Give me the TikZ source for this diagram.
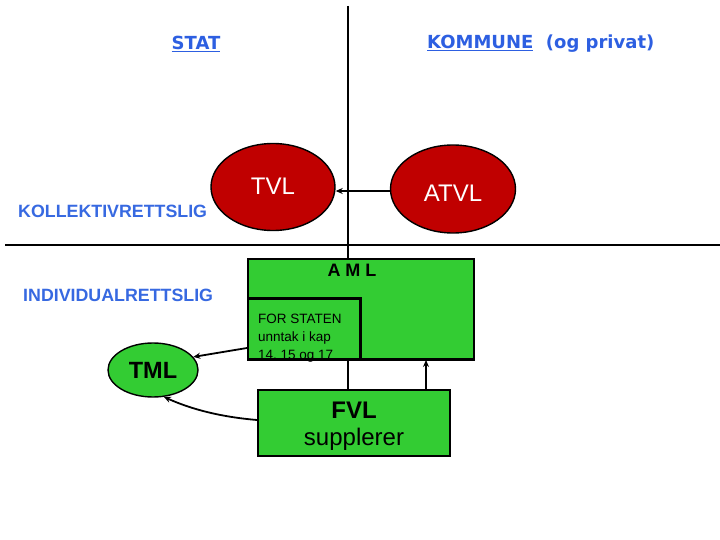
\documentclass[tikz,border=0pt]{standalone}
\usepackage{fontspec}
\setmainfont{Liberation Sans}
\newfontfamily\verd{DejaVu Sans}
\usetikzlibrary{shapes.geometric,arrows.meta}
\definecolor{hblue}{RGB}{45,95,225}
\definecolor{lblue}{RGB}{55,105,225}
\definecolor{ored}{RGB}{192,0,0}
\definecolor{bgreen}{RGB}{51,204,51}
\tikzset{
  axis/.style={line width=2.2pt},
  redell/.style={ellipse, draw=black, line width=1.4pt, fill=ored, inner sep=0pt},
  redtxt/.style={text=white, font=\fontsize{24}{26}\selectfont, inner sep=0pt},
  greenbox/.style={draw=black, line width=2pt, fill=bgreen, inner sep=0pt},
  conn/.style={line width=2pt},
  arr/.style={line width=1.8pt, -{Stealth[length=7pt,width=6pt]}},
  head/.style={font=\verd\bfseries\fontsize{18}{20}\selectfont, text=hblue, inner sep=0pt},
  side/.style={font=\bfseries\fontsize{17.8}{19}\selectfont, text=lblue, inner sep=0pt},
}
\begin{document}
\begin{tikzpicture}[x=1pt,y=-1pt]
\useasboundingbox (0,0) rectangle (720,540);
% axes
\coordinate (vtop) at (348,6);
\coordinate (hl) at (5,245);
\coordinate (hr) at (720,245);
% headers
\node[head] (stat) at (196,44) {\underline{STAT}};
\node[head, anchor=west] (komm) at (427,44) {\underline{KOMMUNE}\ \ (og privat)};
\node[side, anchor=west] (koll) at (18,211) {KOLLEKTIVRETTSLIG};
\node[side, anchor=west] (indiv) at (23,295) {INDIVIDUALRETTSLIG};
% ellipses
\node[redell, minimum width=124pt, minimum height=87pt] (tvl) at (273,187) {};
\node[redtxt] (tvltxt) at (273,186) {TVL};
\node[redell, minimum width=125pt, minimum height=88pt] (atvl) at (453,189) {};
\node[redtxt] (atvltxt) at (453,193) {ATVL};
% AML box
\node[greenbox, minimum width=226pt, minimum height=100pt] (aml) at (361,309) {};
\node[font=\bfseries\fontsize{18}{20}\selectfont, inner sep=0pt] (amltxt) at (352,270) {A M L};
\node[greenbox, minimum width=112pt, minimum height=60pt, anchor=south west] (inner) at (aml.south west) {};
\node[anchor=north west, align=left, inner sep=0pt, font=\fontsize{13.5}{18}\selectfont] (innertxt) at (258,314) {FOR STATEN\\unntak i kap\\14, 15 og 17};
\draw[line width=2pt] (inner.north west) -- (inner.north east) -- (inner.south east);
\draw[line width=2pt] (aml.south west) -- (aml.south east);
% axes
\draw[axis] (vtop) -- (348,259);
\draw[axis] (hl) -- (hr);
% FVL
\node[greenbox, minimum width=192pt, minimum height=66pt, inner sep=0pt] (fvl) at (354,423) {};
\node[align=center, inner sep=0pt, font=\fontsize{24}{27}\selectfont] (fvltxt) at (354,426) {\textbf{FVL}\\supplerer};
% TML
\node[ellipse, draw=black, line width=1.4pt, fill=bgreen, minimum width=90pt, minimum height=54pt, inner sep=0pt, font=\bfseries\fontsize{23.5}{25}\selectfont] (tml) at (153,370) {TML};
% connectors
\draw[arr] (atvl.west |- 0,191) -- (tvl.east |- 0,191);
\draw[conn] (fvl.north -| 348,0) -- (inner.south -| 348,0);
\draw[arr] (fvl.north -| 426,0) -- (aml.south -| 426,0);
\draw[arr] (inner.west |- 0,348) -- (tml.18);
\draw[arr] (fvl.west |- 0,420) .. controls (210,416) and (182,405) .. (tml.-68);
\end{tikzpicture}
\end{document}
